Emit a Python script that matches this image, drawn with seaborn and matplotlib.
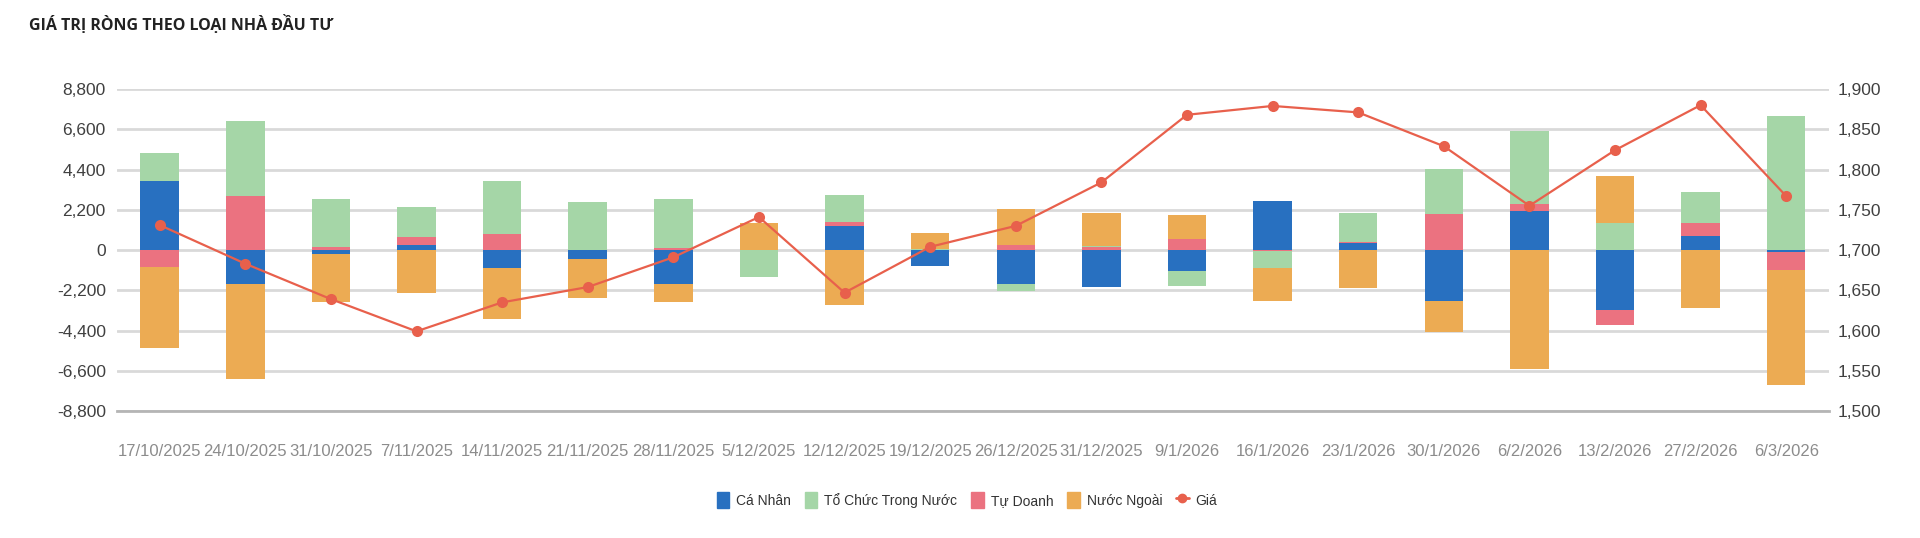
import numpy as np
import seaborn as sns
import matplotlib.pyplot as plt
from matplotlib.patches import Patch
from matplotlib.lines import Line2D
from matplotlib.ticker import FuncFormatter

# data
dates = ["17/10/2025", "24/10/2025", "31/10/2025", "7/11/2025", "14/11/2025",
         "21/11/2025", "28/11/2025", "5/12/2025", "12/12/2025", "19/12/2025",
         "26/12/2025", "31/12/2025", "9/1/2026", "16/1/2026", "23/1/2026",
         "30/1/2026", "6/2/2026", "13/2/2026", "27/2/2026", "6/3/2026"]
ca_nhan = [3780, -1830, -200, 270, -980, -470, -1860, 0, 1330, -880,
           -1860, -2040, -1130, 2700, 380, -2760, 2140, -3290, 750, -100]
to_chuc = [1550, 4070, 2650, 1660, 2900, 2610, 2700, -1500, 1480, 50,
           -400, 70, -840, -930, 1590, 2450, 4010, 1480, 1700, 7350]
tu_doanh = [-910, 2960, 150, 420, 880, -40, 90, 0, 180, 0,
            270, 150, 580, -40, 60, 1990, 370, -790, 730, -1000]
nuoc_ngoai = [-4440, -5240, -2630, -2350, -2790, -2130, -970, 1500, -3030, 860,
              1970, 1810, 1350, -1810, -2060, -1700, -6520, 2570, -3190, -6260]
gia = [1731, 1683, 1639, 1599, 1635, 1654, 1691, 1741, 1647, 1704,
       1730, 1784, 1868, 1879, 1871, 1829, 1755, 1824, 1880, 1767]

names = ["Cá Nhân", "Tổ Chức Trong Nước", "Tự Doanh", "Nước Ngoài"]
colors = {"Cá Nhân": "#2870c0", "Tổ Chức Trong Nước": "#a5d6a7",
          "Tự Doanh": "#eb7280", "Nước Ngoài": "#ecab53"}
line_color = "#e8604c"

sns.set_style("white")
plt.rcParams["font.family"] = ["Liberation Sans", "DejaVu Sans"]

fig = plt.figure(figsize=(19.2, 5.38), dpi=100)
ax = fig.add_axes([0.0609, 0.236, 0.8917, 0.5985])

# stacking order (bottom to top): Cá Nhân, Tự Doanh, Tổ Chức, Nước Ngoài
stack = [("Cá Nhân", ca_nhan), ("Tự Doanh", tu_doanh),
         ("Tổ Chức Trong Nước", to_chuc), ("Nước Ngoài", nuoc_ngoai)]
vals = np.array([s[1] for s in stack], dtype=float)
pos_cum = np.cumsum(np.clip(vals, 0, None), axis=0)
neg_cum = np.cumsum(np.clip(vals, None, 0), axis=0)

# draw cumulative layers from the outermost inwards
for k in range(len(stack) - 1, -1, -1):
    c = colors[stack[k][0]]
    sns.barplot(x=dates, y=pos_cum[k], color=c, width=0.45, ax=ax,
                order=dates, saturation=1, linewidth=0)
    sns.barplot(x=dates, y=neg_cum[k], color=c, width=0.45, ax=ax,
                order=dates, saturation=1, linewidth=0)

ax.set_xlim(-0.5, len(dates) - 0.5)
ax.set_ylim(-8800, 8800)
ax.set_yticks(np.arange(-8800, 8801, 2200))
ax.yaxis.set_major_formatter(FuncFormatter(lambda v, p: f"{int(v):,}"))
ax.set_axisbelow(True)
ax.yaxis.grid(True, color="#d9d9d9", lw=2)
ax.set_xlabel("")
ax.set_ylabel("")
for s in ["top", "left", "right"]:
    ax.spines[s].set_visible(False)
ax.spines["bottom"].set_color("#b5b5b5")
ax.spines["bottom"].set_linewidth(2)
ax.tick_params(axis="y", length=0, labelsize=12.5, labelcolor="#404040", pad=8)
ax.tick_params(axis="x", length=0, labelsize=12, labelcolor="#8c8c8c", pad=24)

ax2 = ax.twinx()
sns.lineplot(x=np.arange(len(dates)), y=gia, ax=ax2, color=line_color,
             marker="o", markersize=8, markeredgewidth=0, linewidth=1.6)
ax2.set_ylim(1500, 1900)
ax2.set_yticks(np.arange(1500, 1901, 50))
ax2.yaxis.set_major_formatter(FuncFormatter(lambda v, p: f"{int(v):,}"))
ax2.set_ylabel("")
for s in ax2.spines.values():
    s.set_visible(False)
ax2.tick_params(axis="y", length=0, labelsize=12.5, labelcolor="#404040", pad=6)
ax2.grid(False)

fig.text(29 / 1920, 1 - 25 / 538, "GIÁ TRỊ RÒNG THEO LOẠI NHÀ ĐẦU TƯ",
         fontsize=11.5, fontweight="bold", color="#222222", va="center",
         family=["Open Sans", "DejaVu Sans"])

handles = [Patch(color=colors[n]) for n in names]
handles.append(Line2D([], [], color=line_color, marker="o", markersize=6, lw=2))
fig.legend(handles, names + ["Giá"], loc="center", ncol=5, frameon=False,
           bbox_to_anchor=(967 / 1920, 1 - 500 / 538), fontsize=10,
           handlelength=0.9, handleheight=1.5, handletextpad=0.5,
           columnspacing=1.0, labelcolor="#333333")

fig.savefig("out.png", dpi=100)
